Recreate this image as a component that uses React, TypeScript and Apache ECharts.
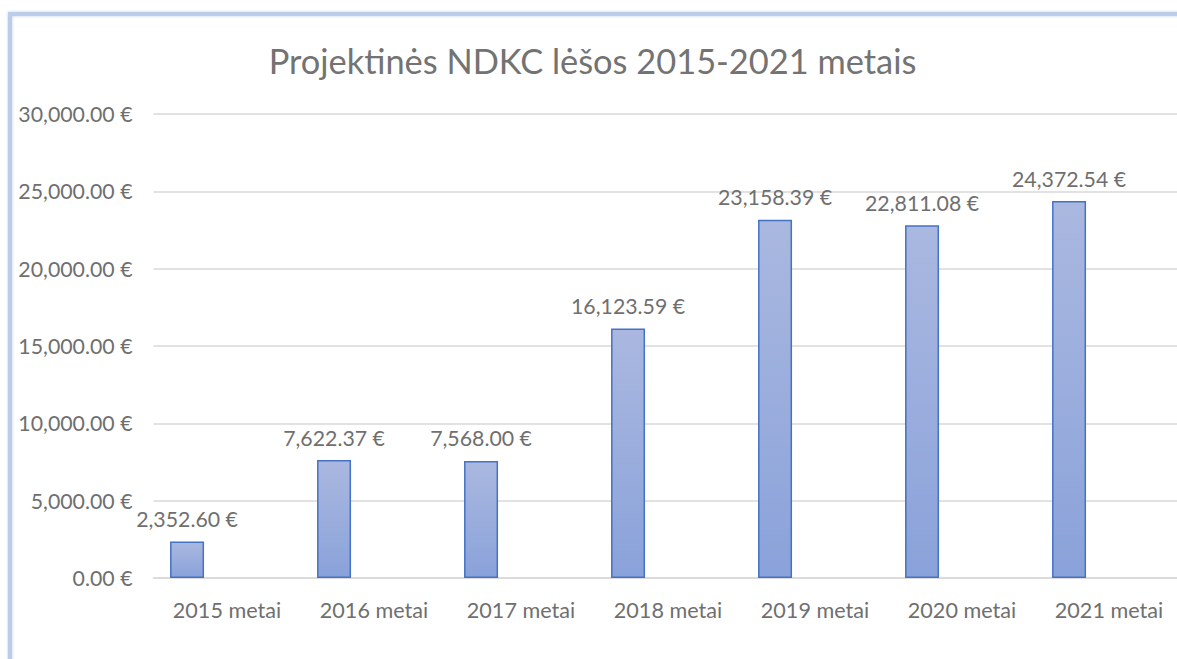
import React, { useEffect, useRef } from "react";
import * as echarts from "echarts";

const titleText = "Projektinės NDKC lėšos 2015-2021 metais";
const categories = ["2015 metai", "2016 metai", "2017 metai", "2018 metai", "2019 metai", "2020 metai", "2021 metai"];
const values = [2352.6, 7622.37, 7568.0, 16123.59, 23158.39, 22811.08, 24372.54];
const emptySeries = [null, null, null, null, null, null, null];
const yMin = 0;
const yMax = 30000;
const yStep = 5000;

const fmt = (v: number) =>
  v.toLocaleString("en-US", { minimumFractionDigits: 2, maximumFractionDigits: 2 }) + " €";

const FONT = "Lato";
const TEXT = "#6f6f6f";

export default function App() {
  const ref = useRef<HTMLDivElement>(null);
  useEffect(() => {
    document.body.style.overflow = "hidden";
    const chart = echarts.init(ref.current!, null, { renderer: "svg" });
    chart.setOption({
      animation: false,
      backgroundColor: "#ffffff",
      textStyle: { fontFamily: FONT },
      title: {
        text: titleText,
        left: "center",
        top: 38,
        textStyle: { fontFamily: FONT, fontSize: 34.4, fontWeight: "normal", color: "#737373" },
      },
      graphic: [
        {
          type: "rect",
          shape: { x: 10, y: 14, width: 1300, height: 800 },
          style: { fill: "none", stroke: "#bccde9", lineWidth: 4, shadowBlur: 3, shadowColor: "rgba(150,175,220,0.6)" },
          silent: true,
          z: 100,
        },
      ],
      grid: { left: 153.5, right: 2.5, top: 114, bottom: 81, containLabel: false },
      xAxis: {
        type: "category",
        data: categories,
        axisLine: { lineStyle: { color: "#d9d9d9", width: 1.5 } },
        axisTick: { show: false },
        axisLabel: { color: TEXT, fontFamily: FONT, fontSize: 21.6, margin: 21 },
      },
      yAxis: {
        type: "value",
        min: yMin,
        max: yMax,
        interval: yStep,
        axisLine: { show: false },
        axisTick: { show: false },
        splitLine: { lineStyle: { color: "#d9d9d9", width: 1.5 } },
        axisLabel: { color: TEXT, fontFamily: FONT, fontSize: 21.3, margin: 21, formatter: (v: number) => fmt(v) },
      },
      series: [
        {
          type: "bar",
          data: values,
          barWidth: 34,
          barGap: "135%",
          itemStyle: {
            color: new echarts.graphic.LinearGradient(0, 0, 0, 1, [
              { offset: 0, color: "#aab8e0" },
              { offset: 1, color: "#8aa2da" },
            ]),
            borderColor: "#4472c4",
            borderWidth: 1.5,
          },
          label: {
            show: true,
            position: "top",
            distance: 12,
            color: TEXT,
            fontFamily: FONT,
            fontSize: 21.3,
            formatter: (p: any) => fmt(p.value),
          },
        },
        {
          type: "bar",
          data: emptySeries,
          barWidth: 34,
          itemStyle: { color: "#ed7d31" },
        },
      ],
    });
    return () => chart.dispose();
  }, []);
  return <div ref={ref} style={{ position: "absolute", left: 0, top: 0, width: 1185, height: 659 }} />;
}
